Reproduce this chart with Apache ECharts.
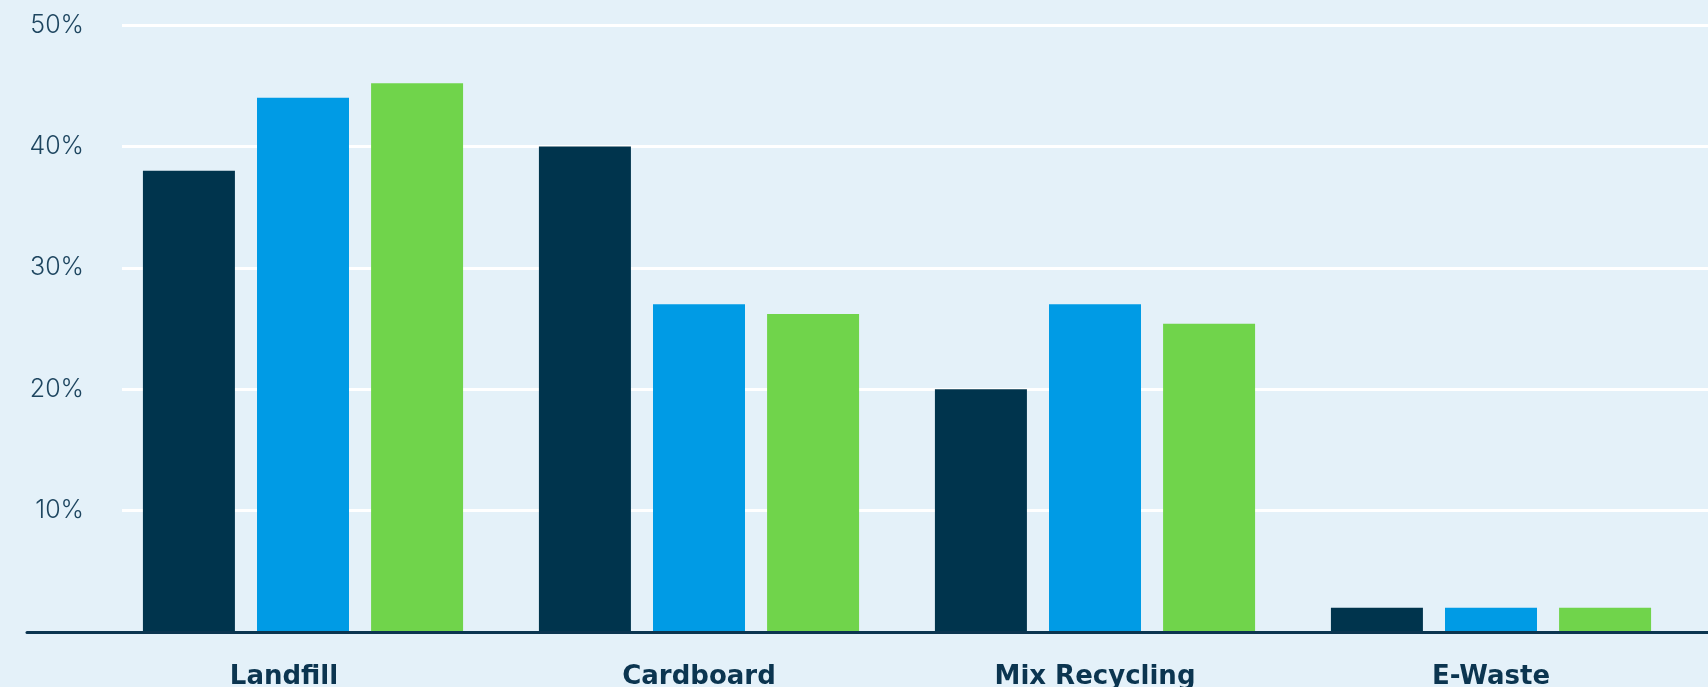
<!DOCTYPE html>
<html>
<head>
<meta charset="utf-8">
<title>Waste composition by stream</title>
<script src="https://cdn.jsdelivr.net/npm/echarts@6/dist/echarts.min.js"></script>
<style>
  html, body { margin: 0; padding: 0; background: #e4f1f9; }
  #chart { width: 1708px; height: 687px; }
</style>
</head>
<body>
<div id="chart"></div>
<script>
// Waste streams along the x axis
const categories = ['Landfill', 'Cardboard', 'Mix Recycling', 'E-Waste'];

// Share of total waste (%) for each of the three periods
const periodOne = [38, 40, 20, 2];
const periodTwo = [44, 27, 27, 2];
const periodThree = [45.2, 26.2, 25.4, 2];

// Value axis ticks (%)
const yMin = 0;
const yMax = 50;
const yStep = 10;

const colors = ['#00344d', '#009be5', '#70d44b'];
const inkDark = '#0b3550';
const inkLabel = '#1e4660';

const chart = echarts.init(document.getElementById('chart'), null, { renderer: 'canvas' });

const plotTop = 25;
const plotBottom = 55;

const catFont = {
  color: inkDark,
  fontFamily: 'DejaVu Sans',
  fontWeight: 700,
  fontSize: 26
};

const barSeries = [periodOne, periodTwo, periodThree].map((values, i) => ({
  type: 'bar',
  name: 'period' + (i + 1),
  xAxisIndex: 0,
  yAxisIndex: 0,
  data: values,
  barWidth: 92,
  barGap: '24%',
  itemStyle: { color: colors[i] },
  emphasis: { disabled: true },
  z: 2
}));

// grids keep their exact extents even when labels run to the canvas edge
const gridBase = { top: plotTop, bottom: plotBottom, containLabel: false, outerBoundsMode: 'none' };

chart.setOption({
  backgroundColor: '#e4f1f9',
  animation: false,
  grid: [
    // bars
    Object.assign({ left: 105, right: 19 }, gridBase),
    // horizontal guide lines and percent labels
    Object.assign({ left: 122, right: 0 }, gridBase),
    // baseline
    Object.assign({ left: 27, right: 0 }, gridBase)
  ],
  xAxis: [
    {
      type: 'category',
      gridIndex: 0,
      data: categories,
      axisLine: { show: false },
      axisTick: { show: false },
      axisLabel: Object.assign({
        margin: 32,
        formatter: (v, i) => (i === 0 ? '{lead|' + v + '}' : v),
        rich: {
          lead: Object.assign({ padding: [0, 38, 0, 0] }, catFont)
        }
      }, catFont)
    },
    {
      type: 'category',
      gridIndex: 1,
      data: categories,
      show: false
    },
    {
      type: 'category',
      gridIndex: 2,
      data: categories,
      z: 5,
      axisLine: { show: true, lineStyle: { color: inkDark, width: 3 } },
      axisTick: { show: false },
      axisLabel: { show: false }
    }
  ],
  yAxis: [
    {
      type: 'value',
      gridIndex: 0,
      min: yMin,
      max: yMax,
      interval: yStep,
      axisLine: { show: false },
      axisTick: { show: false },
      axisLabel: { show: false },
      splitLine: { show: false }
    },
    {
      type: 'value',
      gridIndex: 1,
      min: yMin,
      max: yMax,
      interval: yStep,
      axisLine: { show: false },
      axisTick: { show: false },
      axisLabel: {
        margin: 38,
        color: inkLabel,
        fontFamily: 'Inter',
        fontWeight: 300,
        fontSize: 25,
        formatter: v => (v === 0 ? '' : v + '%')
      },
      splitLine: { show: true, lineStyle: { color: '#ffffff', width: 3 } }
    },
    {
      type: 'value',
      gridIndex: 2,
      min: yMin,
      max: yMax,
      interval: yStep,
      show: false,
      splitLine: { show: false }
    }
  ],
  series: barSeries
});
</script>
</body>
</html>
